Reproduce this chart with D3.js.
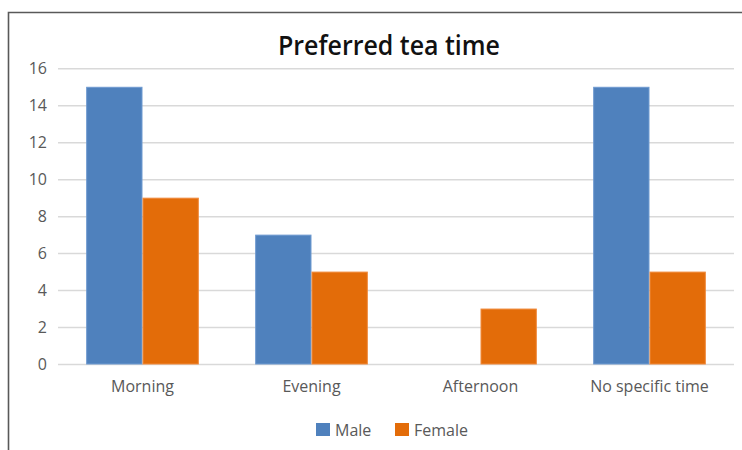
<!DOCTYPE html>
<html>
<head>
<meta charset="utf-8">
<script src="https://cdn.jsdelivr.net/npm/d3@7/dist/d3.min.js"></script>
<style>
  html, body { margin: 0; padding: 0; background: #fff; }
  svg { display: block; }
</style>
</head>
<body>
<svg id="chart" width="742" height="450"></svg>
<script>
// Preferred tea time survey, counts by gender
const categories = ["Morning", "Evening", "Afternoon", "No specific time"];
const seriesNames = ["Male", "Female"];
const maleValues = [15, 7, 0, 15];
const femaleValues = [9, 5, 3, 5];
const yTicks = [0, 2, 4, 6, 8, 10, 12, 14, 16];
const titleText = "Preferred tea time";

const colors = { Male: "#4F81BD", Female: "#E36C09" };
const outline = { Male: "#6E9AD0", Female: "#F08A3C" };
const textColor = "#595959";
const labelFont = "'Open Sans', sans-serif";
const labelSize = 16;

const svg = d3.select("#chart");
const W = 742, H = 450;
const plot = { left: 58, right: 734, top: 68.3, bottom: 364 };

const rows = categories.map((c, i) => ({ cat: c, Male: maleValues[i], Female: femaleValues[i] }));

const x = d3.scaleBand().domain(categories).range([plot.left, plot.right]).paddingInner(1/3).paddingOuter(1/6);
const xs = d3.scaleBand().domain(seriesNames).range([0, x.bandwidth()]);
const y = d3.scaleLinear().domain([0, 16]).range([plot.bottom, plot.top]);

// outer frame (top and left edges visible)
svg.append("path")
  .attr("d", `M8.5,${H} V12.5 H${W}`)
  .attr("fill", "none").attr("stroke", "#595959").attr("stroke-width", 1.6);

// title
svg.append("text")
  .attr("x", 389).attr("y", 55)
  .attr("text-anchor", "middle")
  .attr("font-family", "'Open Sans', sans-serif")
  .attr("font-weight", 600)
  .attr("font-size", 27)
  .attr("fill", "#111")
  .attr("textLength", 222).attr("lengthAdjust", "spacingAndGlyphs")
  .text(titleText);

// gridlines + y labels
const yAxis = d3.axisLeft(y).tickValues(yTicks).tickSize(-(plot.right - plot.left)).tickPadding(11);
const gy = svg.append("g").attr("transform", `translate(${plot.left},0)`).call(yAxis);
gy.select(".domain").remove();
gy.selectAll(".tick line").attr("stroke", "#D9D9D9").attr("stroke-width", 1.5);
gy.selectAll(".tick text")
  .attr("fill", textColor)
  .attr("font-family", labelFont)
  .attr("font-size", labelSize);

// bars
const groups = svg.append("g").selectAll("g").data(rows).join("g")
  .attr("transform", d => `translate(${x(d.cat)},0)`);
groups.selectAll("rect")
  .data(d => seriesNames.map(s => ({ s, v: d[s] })).filter(e => e.v > 0))
  .join("rect")
  .attr("x", d => xs(d.s) + 0.5)
  .attr("width", xs.bandwidth() - 1)
  .attr("y", d => y(d.v) + 0.5)
  .attr("height", d => y(0) - y(d.v) - 0.5)
  .attr("fill", d => colors[d.s])
  .attr("stroke", d => outline[d.s])
  .attr("stroke-width", 1);

// category axis
const xAxis = d3.axisBottom(x).tickSize(0).tickPadding(17);
const gx = svg.append("g").attr("transform", `translate(0,${plot.bottom})`).call(xAxis);
gx.select(".domain").remove();
gx.selectAll(".tick text")
  .attr("fill", textColor)
  .attr("font-family", labelFont)
  .attr("font-size", labelSize);

// legend
const legend = svg.append("g");
const legendItems = [{ s: "Male", x: 316 }, { s: "Female", x: 395 }];
legendItems.forEach(it => {
  legend.append("rect").attr("x", it.x).attr("y", 423).attr("width", 14).attr("height", 13)
    .attr("fill", colors[it.s]);
  legend.append("text").attr("x", it.x + 19).attr("y", 436)
    .attr("fill", textColor)
    .attr("font-family", labelFont)
    .attr("font-size", labelSize)
    .text(it.s);
});
</script>
</body>
</html>
